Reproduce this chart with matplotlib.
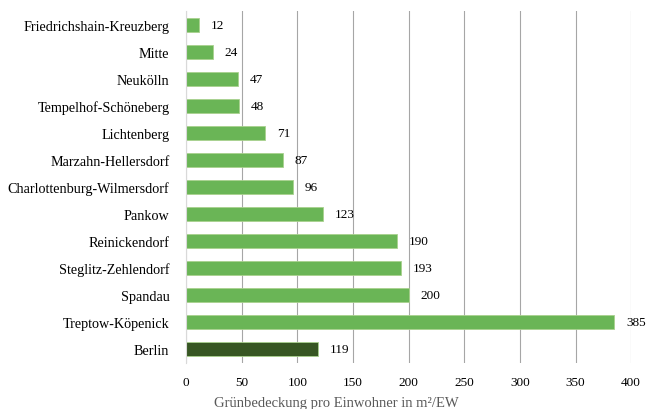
import matplotlib
matplotlib.use("Agg")
from matplotlib import pyplot as plt

# Grünbedeckung je Bezirk, von oben nach unten wie im Bild
bezirke = ["Friedrichshain-Kreuzberg", "Mitte", "Neukölln", "Tempelhof-Schöneberg",
           "Lichtenberg", "Marzahn-Hellersdorf", "Charlottenburg-Wilmersdorf", "Pankow",
           "Reinickendorf", "Steglitz-Zehlendorf", "Spandau", "Treptow-Köpenick", "Berlin"]
werte = [12, 24, 47, 48, 71, 87, 96, 123, 190, 193, 200, 385, 119]
x_ticks = [0, 50, 100, 150, 200, 250, 300, 350, 400]

hell = "#6ab556"
dunkel = "#375623"
farben = [dunkel if b == "Berlin" else hell for b in bezirke]

plt.rcParams["font.family"] = ["Liberation Serif", "DejaVu Serif"]

fig = plt.figure(figsize=(6.46, 4.10), dpi=100)
ax = fig.add_axes([0.288, 0.1134, 0.689, 0.8566])

pos = list(range(len(bezirke)))
ax.barh(pos, werte, height=0.5, color=farben, edgecolor="#a9d18e", linewidth=0.6, zorder=3)
for p, w in zip(pos, werte):
    ax.text(w + 10.5, p, str(w), va="center", ha="left", fontsize=9.5, zorder=4)

ax.set_ylim(len(bezirke) - 0.5, -0.5)
ax.set_xlim(0, 400)
ax.set_yticks(pos)
ax.set_yticklabels(bezirke, fontsize=10.2)
ax.set_xticks(x_ticks)
ax.set_xticklabels([str(t) for t in x_ticks], fontsize=9.5)
ax.tick_params(axis="both", length=0)
ax.tick_params(axis="y", pad=12)
ax.tick_params(axis="x", pad=10)

ax.grid(axis="x", color="#a6a6a6", linewidth=0.8, zorder=0)
for s in ["top", "right", "bottom"]:
    ax.spines[s].set_visible(False)
ax.spines["left"].set_color("#d9d9d9")
ax.spines["left"].set_zorder(5)

# Achsentitel sitzt im Original links von der Mitte der Achse
fig.text(0.52, 0.0, "Grünbedeckung pro Einwohner in m²/EW", fontsize=10.5,
         color="#595959", ha="center", va="bottom")

fig.savefig("out.png", dpi=100)
